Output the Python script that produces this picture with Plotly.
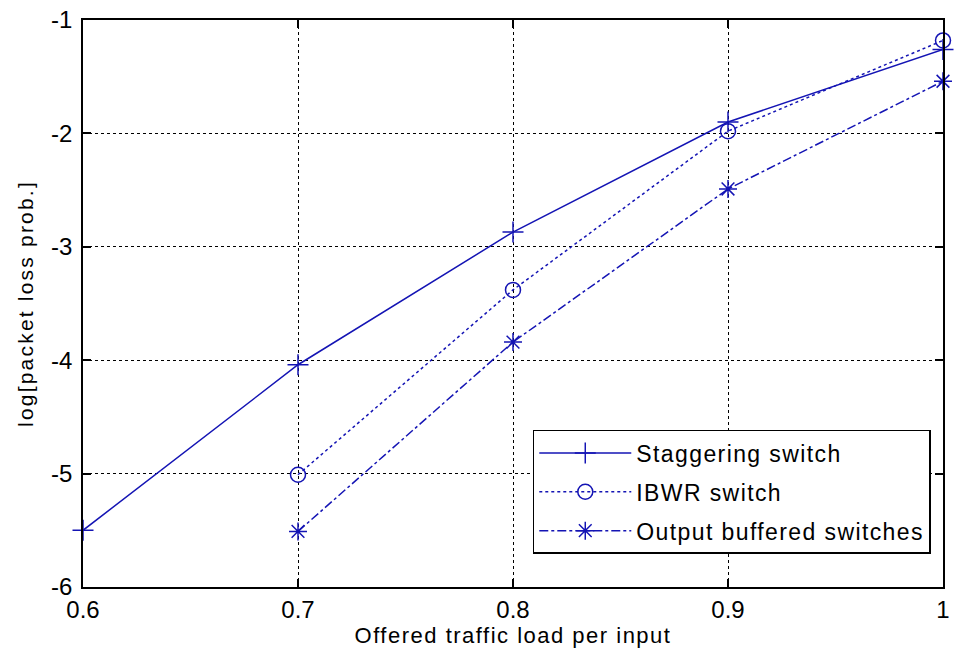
import plotly.graph_objects as go

load = [0.6, 0.7, 0.8, 0.9, 1.0]
stagger = [-5.50, -4.04, -2.87, -1.90, -1.26]
ibwr_load = [0.7, 0.8, 0.9, 1.0]
ibwr = [-5.01, -3.38, -1.98, -1.18]
obuf_load = [0.7, 0.8, 0.9, 1.0]
obuf = [-5.51, -3.84, -2.49, -1.54]

xticks = [0.6, 0.7, 0.8, 0.9, 1.0]
xticktext = ["0.6", "0.7", "0.8", "0.9", "1"]
yticks = [-6, -5, -4, -3, -2, -1]
yticktext = ["-6", "-5", "-4", "-3", "-2", "-1"]

blue = "#1414b4"
font = "Liberation Sans, Arial, sans-serif"


def spaced(s, px):
    return '<span style="letter-spacing:%spx">%s</span>' % (px, s)


fig = go.Figure()
fig.add_trace(go.Scatter(
    x=load, y=stagger, name=spaced("Staggering switch", 1.4), mode="lines+markers",
    legendgroup="a",
    line=dict(color=blue, width=1.5, dash="solid"),
    marker=dict(symbol="cross-thin", size=15, line=dict(color=blue, width=1.5)),
    cliponaxis=False))
fig.add_trace(go.Scatter(
    x=ibwr_load, y=ibwr, name=spaced("IBWR switch", 1.4), mode="lines+markers",
    legendgroup="b",
    line=dict(color=blue, width=1.5, dash="dot"),
    marker=dict(symbol="circle-open", size=15, color=blue, line=dict(color=blue, width=1.5)),
    cliponaxis=False))
fig.add_trace(go.Scatter(
    x=obuf_load, y=obuf, name=spaced("Output buffered switches", 1.4), mode="lines+markers",
    legendgroup="c",
    line=dict(color=blue, width=1.5, dash="dashdot"),
    marker=dict(symbol="asterisk-open", size=15, color=blue, line=dict(color=blue, width=1.5)),
    cliponaxis=False))

axis_common = dict(
    showline=True, linecolor="black", linewidth=1.5, mirror="ticks",
    ticks="inside", ticklen=8, tickcolor="black", tickwidth=1.5,
    showgrid=True, gridcolor="black", gridwidth=1, griddash="dot",
    zeroline=False, tickfont=dict(family=font, size=24, color="black"),
)

fig.update_xaxes(range=[0.6, 1.0], tickvals=xticks, ticktext=xticktext,
                 title=dict(text=spaced("Offered traffic load per input", 1.5),
                            font=dict(family=font, size=22, color="black"), standoff=5),
                 ticklabelstandoff=0,
                 **axis_common)
fig.update_yaxes(range=[-6, -1], tickvals=yticks, ticktext=yticktext,
                 title=dict(text=spaced("log[packet loss prob.]", 2.2),
                            font=dict(family=font, size=21, color="black"), standoff=12),
                 ticklabelstandoff=4,
                 **axis_common)

fig.update_layout(
    width=956, height=658,
    margin=dict(l=83, r=6, t=20, b=71),
    paper_bgcolor="white", plot_bgcolor="white",
    font=dict(family=font, color="black"),
    legend=dict(x=0.523, y=0.277, xanchor="left", yanchor="top",
                bordercolor="black", borderwidth=1.5, bgcolor="white",
                font=dict(family=font, size=23, color="black"),
                tracegroupgap=6, itemwidth=92),
    showlegend=True,
)

fig.write_html("out.html")
